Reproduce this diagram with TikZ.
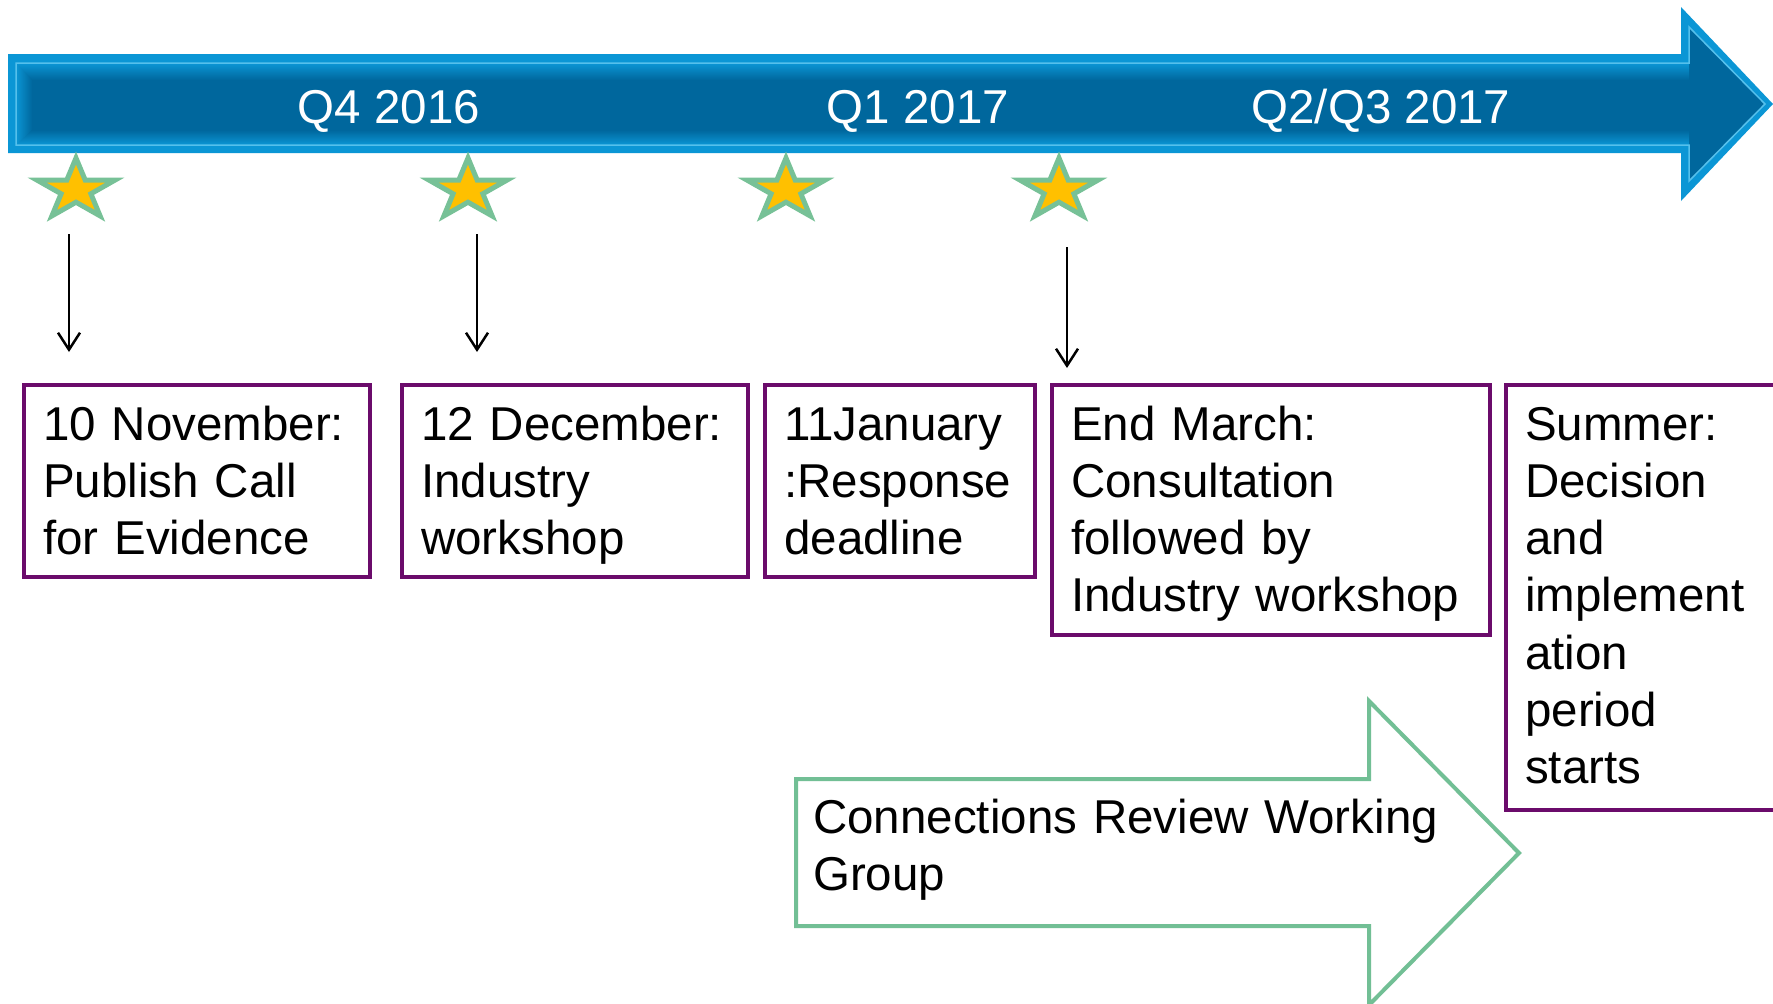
\documentclass[tikz,border=0pt]{standalone}
\usepackage{fontspec}
\setmainfont{Liberation Sans}
\usetikzlibrary{positioning,arrows.meta,shapes.geometric,calc}
\definecolor{barblue}{HTML}{00679D}
\definecolor{baredge}{HTML}{0B96D5}
\definecolor{barshine}{HTML}{55C0EC}
\definecolor{evpurple}{HTML}{6B0B6B}
\definecolor{stargold}{HTML}{FFC000}
\definecolor{stargreen}{HTML}{77C197}
\definecolor{crwgreen}{HTML}{72BF95}
\newcommand{\bigtext}{\fontsize{47.5}{57.3}\selectfont}
\tikzset{
    milestone/.style={star,star points=5,star point ratio=2.618,minimum size=64pt,inner sep=0pt,
        xscale=1.28,draw=stargreen,fill=stargold,line width=5pt},
    event/.style={draw=evpurple,line width=4pt,anchor=north west,minimum height=192pt,inner sep=0pt,outer sep=0pt},
    eventtext/.style={anchor=base west,text width=640pt,align=left,inner sep=0pt,font=\bigtext},
    quarter/.style={anchor=base,text=white,inner sep=0pt,font=\bigtext},
    tick/.style={-{Straight Barb[length=17pt,width=22pt]},line width=2.5pt},
}

\begin{document}
\begin{tikzpicture}[x=1pt,y=-1pt]
    \useasboundingbox (0,0) rectangle (1773,1004);
    \fill[white] (0,0) rectangle (1773,1004);

    % timeline bar
    \fill[baredge] (8,54) -- (1681,54) -- (1681,7) -- (1773,104) -- (1681,201) -- (1681,153) -- (8,153) -- cycle;
    \fill[barblue] (16,63) -- (1689,63) -- (1689,27) -- (1765,104) -- (1689,181) -- (1689,145) -- (16,145) -- cycle;
    \shade[top color=baredge,bottom color=barblue] (16,63) rectangle (1689,80);
    \shade[top color=barblue,bottom color=baredge] (16,130) rectangle (1689,145);
    \shade[left color=baredge,right color=barblue] (16,63) -- (32,80) -- (32,130) -- (16,145) -- cycle;
    \draw[barshine,line width=1.5pt] (16,63) -- (1689,63) -- (1689,27) -- (1765,104) -- (1689,181) -- (1689,145) -- (16,145) -- cycle;

    \node[quarter] (q4) at (389,123) {Q4 2016};
    \node[quarter] (q1) at (918,123) {Q1 2017};
    \node[quarter] (q23) at (1381,123) {Q2/Q3 2017};

    % milestones
    \node[milestone] (s1) at (76,190) {};
    \node[milestone] (s2) at (468,190) {};
    \node[milestone] (s3) at (786,190) {};
    \node[milestone] (s4) at (1059,190) {};

    % event boxes
    \node[event,minimum width=346pt] (b1) at (24,385) {};
    \node[event,right=32pt of b1.north east,anchor=north west,minimum width=346pt] (b2) {};
    \node[event,right=17pt of b2.north east,anchor=north west,minimum width=270pt] (b3) {};
    \node[event,right=17pt of b3.north east,anchor=north west,minimum width=438pt,minimum height=250pt] (b4) {};
    \node[event,right=16pt of b4.north east,anchor=north west,minimum width=320pt,minimum height=425pt] (b5) {};

    \node[eventtext] (t1) at ([xshift=19pt,yshift=-55pt]b1.north west) {10 November:\\Publish Call\\for Evidence};
    \node[eventtext] (t2) at ([xshift=19pt,yshift=-55pt]b2.north west) {12 December:\\Industry\\workshop};
    \node[eventtext] (t3) at ([xshift=19pt,yshift=-55pt]b3.north west) {11January\\:Response\\deadline};
    \node[eventtext] (t4) at ([xshift=19pt,yshift=-55pt]b4.north west) {End March:\\Consultation\\followed by\\Industry workshop};
    \node[eventtext] (t5) at ([xshift=19pt,yshift=-55pt]b5.north west) {Summer:\\Decision\\and\\implement\\ation\\period\\starts};

    \draw[tick] ($(s1.center)+(-7pt,-44pt)$) -- ($(s1.center |- b1.north)+(-7pt,33pt)$);
    \draw[tick] ($(s2.center)+(9pt,-44pt)$) -- ($(s2.center |- b2.north)+(9pt,33pt)$);
    \draw[tick] ($(s4.center)+(8pt,-57pt)$) -- ($(s4.center |- b4.north)+(8pt,17pt)$);

    % working group
    \draw[crwgreen,line width=4pt] (796,779) -- (1369,779) -- (1369,701) -- (1519,853) -- (1369,1005) -- (1369,926) -- (796,926) -- cycle;
    \node[eventtext] (crw) at (813,833) {Connections Review Working\\Group};
\end{tikzpicture}
\end{document}
